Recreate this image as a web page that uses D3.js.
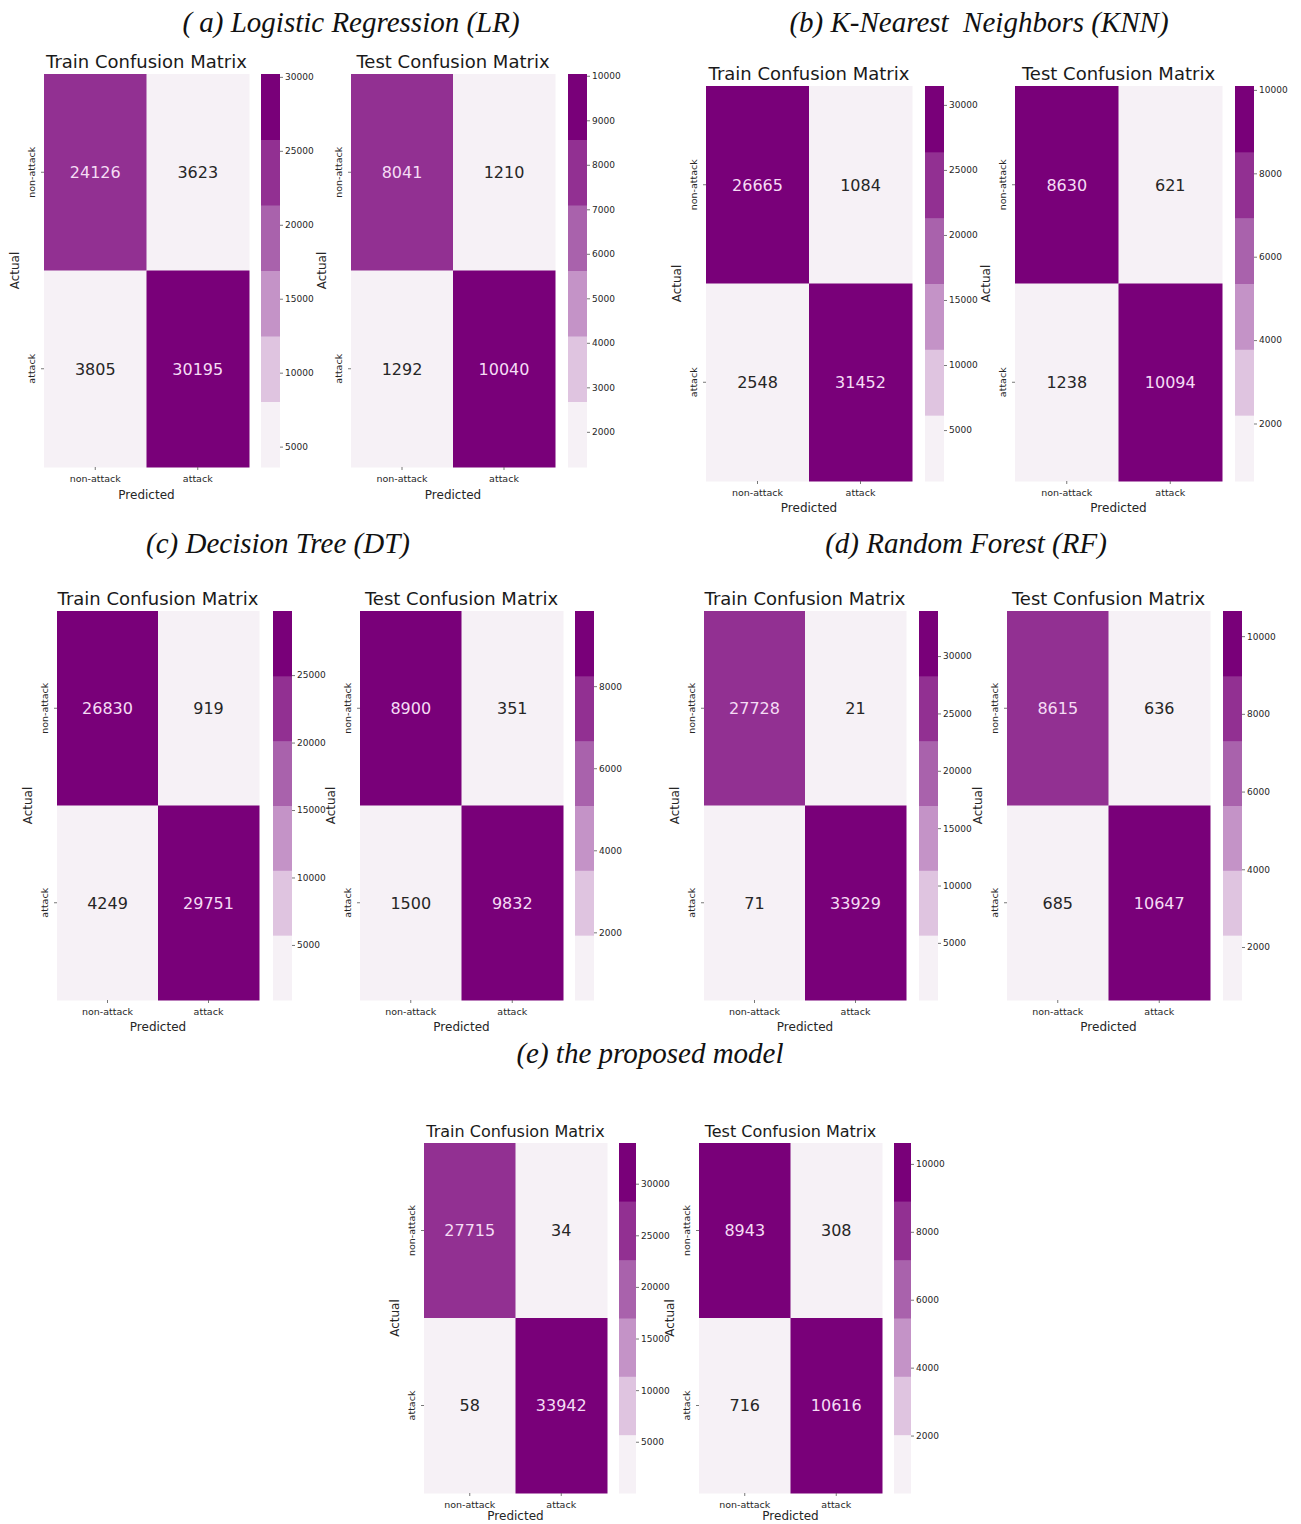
<!DOCTYPE html>
<html>
<head>
<meta charset="utf-8">
<script src="https://cdn.jsdelivr.net/npm/d3@7"></script>
<style>
  html, body { margin: 0; padding: 0; background: #ffffff; }
  svg { display: block; }
</style>
</head>
<body>
<svg id="chart" width="1301" height="1524"></svg>
<script>
// ---- data ----------------------------------------------------------
const classes = ["non-attack", "attack"];   // rows = actual, columns = predicted

const modelTitles = [
  "( a) Logistic Regression (LR)",
  "(b) K-Nearest  Neighbors (KNN)",
  "(c) Decision Tree (DT)",
  "(d) Random Forest (RF)",
  "(e) the proposed model"
];

const lrTrain   = [[24126, 3623], [3805, 30195]];
const lrTest    = [[8041, 1210], [1292, 10040]];
const knnTrain  = [[26665, 1084], [2548, 31452]];
const knnTest   = [[8630, 621], [1238, 10094]];
const dtTrain   = [[26830, 919], [4249, 29751]];
const dtTest    = [[8900, 351], [1500, 9832]];
const rfTrain   = [[27728, 21], [71, 33929]];
const rfTest    = [[8615, 636], [685, 10647]];
const propTrain = [[27715, 34], [58, 33942]];
const propTest  = [[8943, 308], [716, 10616]];

const lrTrainTicks   = [5000, 10000, 15000, 20000, 25000, 30000];
const lrTestTicks    = [2000, 3000, 4000, 5000, 6000, 7000, 8000, 9000, 10000];
const knnTrainTicks  = [5000, 10000, 15000, 20000, 25000, 30000];
const knnTestTicks   = [2000, 4000, 6000, 8000, 10000];
const dtTrainTicks   = [5000, 10000, 15000, 20000, 25000];
const dtTestTicks    = [2000, 4000, 6000, 8000];
const rfTrainTicks   = [5000, 10000, 15000, 20000, 25000, 30000];
const rfTestTicks    = [2000, 4000, 6000, 8000, 10000];
const propTrainTicks = [5000, 10000, 15000, 20000, 25000, 30000];
const propTestTicks  = [2000, 4000, 6000, 8000, 10000];

// ---- style ---------------------------------------------------------
// six-step purple palette, light to dark
const purpleSteps = ["#f6f1f6", "#dfc4e0", "#c493c7", "#a962ac", "#923092", "#790079"];
const sansFont = "'DejaVu Sans', sans-serif";
const serifFont = "'Liberation Serif', 'Times New Roman', serif";

// ---- layout (pixel boxes of every heatmap and its colour bar) -----
const layout = [
  { title: [351, 32], fs: 18, xlab: 32,
    mats: [ { data: lrTrain, ticks: lrTrainTicks, x: 44, y: 74, w: 205, h: 393, cb: 261, cbw: 19 },
            { data: lrTest,  ticks: lrTestTicks,  x: 351, y: 74, w: 204, h: 393, cb: 568, cbw: 19 } ] },
  { title: [979, 32], fs: 18, xlab: 31,
    mats: [ { data: knnTrain, ticks: knnTrainTicks, x: 706, y: 86, w: 206, h: 395, cb: 925, cbw: 19 },
            { data: knnTest,  ticks: knnTestTicks,  x: 1015, y: 86, w: 207, h: 395, cb: 1235, cbw: 19 } ] },
  { title: [278, 553], fs: 18, xlab: 31,
    mats: [ { data: dtTrain, ticks: dtTrainTicks, x: 57, y: 611, w: 202, h: 389, cb: 273, cbw: 19 },
            { data: dtTest,  ticks: dtTestTicks,  x: 360, y: 611, w: 203, h: 389, cb: 575, cbw: 19 } ] },
  { title: [966, 553], fs: 18, xlab: 31,
    mats: [ { data: rfTrain, ticks: rfTrainTicks, x: 704, y: 611, w: 202, h: 389, cb: 919, cbw: 19 },
            { data: rfTest,  ticks: rfTestTicks,  x: 1007, y: 611, w: 203, h: 389, cb: 1223, cbw: 19 } ] },
  { title: [650, 1063], fs: 16, xlab: 27,
    mats: [ { data: propTrain, ticks: propTrainTicks, x: 424, y: 1143, w: 183, h: 350, cb: 619, cbw: 17 },
            { data: propTest,  ticks: propTestTicks,  x: 699, y: 1143, w: 183, h: 350, cb: 894, cbw: 17 } ] }
];
const matrixNames = ["Train Confusion Matrix", "Test Confusion Matrix"];

// ---- drawing -------------------------------------------------------
const svg = d3.select("#chart");

function drawMatrix(g, m, name, titleSize, xlabOffset) {
  const values = m.data.flat();
  const vmin = d3.min(values), vmax = d3.max(values);
  const color = d3.scaleQuantize().domain([vmin, vmax]).range(purpleSteps);

  const x = d3.scaleBand().domain(classes).range([m.x, m.x + m.w]);
  const y = d3.scaleBand().domain(classes).range([m.y, m.y + m.h]);

  const cells = [];
  m.data.forEach((row, i) => row.forEach((v, j) => cells.push({ actual: classes[i], pred: classes[j], v })));

  g.selectAll("rect.cell").data(cells).join("rect")
    .attr("class", "cell")
    .attr("x", d => x(d.pred)).attr("y", d => y(d.actual))
    .attr("width", x.bandwidth() + 0.5).attr("height", y.bandwidth() + 0.5)
    .attr("fill", d => color(d.v));

  g.selectAll("text.val").data(cells).join("text")
    .attr("class", "val")
    .attr("x", d => x(d.pred) + x.bandwidth() / 2)
    .attr("y", d => y(d.actual) + y.bandwidth() / 2)
    .attr("dy", "0.36em")
    .attr("text-anchor", "middle")
    .attr("font-family", sansFont).attr("font-size", 16)
    .attr("fill", d => purpleSteps.indexOf(color(d.v)) >= 3 ? "#f5dcf5" : "#262626")
    .text(d => d.v);

  // matrix title
  g.append("text")
    .attr("x", m.x + m.w / 2).attr("y", m.y - 6)
    .attr("text-anchor", "middle")
    .attr("font-family", sansFont).attr("font-size", titleSize)
    .attr("fill", "#1a1a1a")
    .text(name);

  // x axis
  const xAxis = g.append("g").attr("transform", `translate(0,${m.y + m.h})`)
    .call(d3.axisBottom(x).tickSize(3).tickPadding(5));
  xAxis.select(".domain").remove();
  xAxis.selectAll("line").attr("stroke", "#555").attr("stroke-width", 0.8);
  xAxis.selectAll("text").attr("font-family", sansFont).attr("font-size", 9.5).attr("fill", "#262626");

  g.append("text")
    .attr("x", m.x + m.w / 2).attr("y", m.y + m.h + xlabOffset)
    .attr("text-anchor", "middle")
    .attr("font-family", sansFont).attr("font-size", 12).attr("fill", "#262626")
    .text("Predicted");

  // y axis with rotated labels
  const yAxis = g.append("g").attr("transform", `translate(${m.x},0)`)
    .call(d3.axisLeft(y).tickSize(3).tickPadding(0));
  yAxis.select(".domain").remove();
  yAxis.selectAll("line").attr("stroke", "#555").attr("stroke-width", 0.8);
  yAxis.selectAll("text")
    .attr("x", null).attr("dy", null)
    .attr("text-anchor", "middle")
    .attr("transform", "translate(-9.5,0) rotate(-90)")
    .attr("font-family", sansFont).attr("font-size", 9.5).attr("fill", "#262626");

  g.append("text")
    .attr("transform", `translate(${m.x - 25.5},${m.y + m.h / 2}) rotate(-90)`)
    .attr("text-anchor", "middle")
    .attr("font-family", sansFont).attr("font-size", 12).attr("fill", "#262626")
    .text("Actual");

  // stepped colour bar
  const cbScale = d3.scaleLinear().domain([vmin, vmax]).range([m.y + m.h, m.y]);
  const step = (vmax - vmin) / purpleSteps.length;
  const bins = purpleSteps.map((c, k) => ({ c, lo: vmin + k * step, hi: vmin + (k + 1) * step }));
  g.selectAll("rect.cb").data(bins).join("rect")
    .attr("class", "cb")
    .attr("x", m.cb).attr("width", m.cbw)
    .attr("y", d => cbScale(d.hi))
    .attr("height", d => cbScale(d.lo) - cbScale(d.hi) + 0.5)
    .attr("fill", d => d.c);

  const cbAxis = g.append("g").attr("transform", `translate(${m.cb + m.cbw},0)`)
    .call(d3.axisRight(cbScale).tickValues(m.ticks).tickSize(3).tickPadding(2).tickFormat(d3.format("d")));
  cbAxis.select(".domain").remove();
  cbAxis.selectAll("line").attr("stroke", "#555").attr("stroke-width", 0.8);
  cbAxis.selectAll("text").attr("font-family", sansFont).attr("font-size", 9).attr("fill", "#262626");
}

layout.forEach((p, i) => {
  const g = svg.append("g");
  g.append("text")
    .attr("x", p.title[0]).attr("y", p.title[1])
    .attr("text-anchor", "middle")
    .attr("font-family", serifFont).attr("font-style", "italic")
    .attr("font-size", 29).attr("fill", "#111")
    .style("white-space", "pre")
    .text(modelTitles[i]);
  p.mats.forEach((m, k) => drawMatrix(g.append("g"), m, matrixNames[k], p.fs, p.xlab));
});
</script>
</body>
</html>
